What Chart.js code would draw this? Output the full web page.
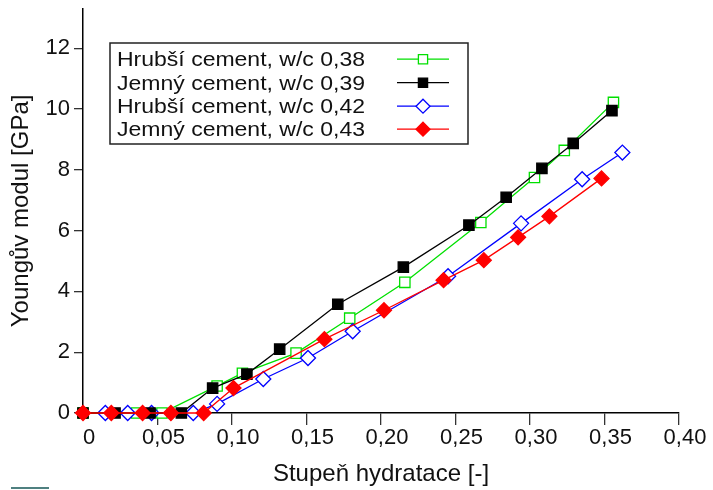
<!DOCTYPE html>
<html><head><meta charset="utf-8">
<script src="https://cdn.jsdelivr.net/npm/chart.js@4/dist/chart.umd.min.js"></script>
<style>
html,body{margin:0;padding:0;background:#fff;}
#wrap{position:relative;width:713px;height:490px;}
#deco{position:absolute;left:11px;top:487px;width:38px;height:2px;background:#4f8080;}
</style></head><body>
<div id="wrap"><canvas id="c" width="713" height="490"></canvas><div id="deco"></div></div>
<script>
// ---- data ----
const seriesNames = [
  'Hrubší cement, w/c 0,38',
  'Jemný cement, w/c 0,39',
  'Hrubší cement, w/c 0,42',
  'Jemný cement, w/c 0,43'
];
const hrubsi038X = [0, 0.036, 0.053, 0.090, 0.107, 0.143, 0.179, 0.216, 0.267, 0.303, 0.323, 0.356];
const hrubsi038Y = [0, 0, 0, 0.89, 1.31, 1.97, 3.12, 4.30, 6.27, 7.75, 8.64, 10.22];
const jemny039X = [0, 0.0215, 0.045, 0.066, 0.087, 0.110, 0.132, 0.171, 0.215, 0.259, 0.284, 0.308, 0.329, 0.355];
const jemny039Y = [0, 0, 0, 0, 0.82, 1.28, 2.10, 3.58, 4.80, 6.18, 7.10, 8.05, 8.87, 9.95];
const hrubsi042X = [0.015, 0.030, 0.046, 0.074, 0.090, 0.121, 0.151, 0.181, 0.245, 0.294, 0.335, 0.362];
const hrubsi042Y = [0, 0, 0, 0, 0.30, 1.12, 1.81, 2.69, 4.50, 6.24, 7.69, 8.57];
const jemny043X = [0, 0.019, 0.040, 0.059, 0.081, 0.101, 0.162, 0.202, 0.242, 0.269, 0.292, 0.313, 0.348];
const jemny043Y = [0, 0, 0, 0, 0, 0.82, 2.43, 3.38, 4.37, 5.03, 5.78, 6.47, 7.72];
const xTicks = [0, 0.05, 0.10, 0.15, 0.20, 0.25, 0.30, 0.35, 0.40];
const yTicks = [0, 2, 4, 6, 8, 10, 12];
const xTitle = 'Stupeň hydratace [-]';
const yTitle = 'Youngův modul [GPa]';

// ---- styles ----
const FONT = "'Liberation Sans', Arial, sans-serif";
const styles = [
  {color:'#00e000', point:'rect', fill:'#ffffff', r:7.3, order:4},
  {color:'#000000', point:'rect', fill:'#000000', r:7.3, order:2},
  {color:'#0000ff', point:'rectRot', fill:'#ffffff', r:7.5, order:3},
  {color:'#ff0000', point:'rectRot', fill:'#ff0000', r:7.5, order:1}
];
const xs = [hrubsi038X, jemny039X, hrubsi042X, jemny043X];
const ys = [hrubsi038Y, jemny039Y, hrubsi042Y, jemny043Y];

const datasets = seriesNames.map((name, i) => ({
  label: name,
  data: xs[i].map((x, k) => ({x: x, y: ys[i][k]})),
  borderColor: styles[i].color,
  backgroundColor: styles[i].fill,
  borderWidth: 1.3,
  pointStyle: styles[i].point,
  pointRadius: styles[i].r,
  pointBorderColor: styles[i].color,
  pointBackgroundColor: styles[i].fill,
  pointBorderWidth: 1.3,
  tension: 0,
  clip: false,
  order: styles[i].order
}));

function drawMarker(ctx, style, x, y, r, fill, stroke) {
  ctx.beginPath();
  if (style === 'rect') {
    const s = r * Math.SQRT1_2;
    ctx.rect(x - s, y - s, 2 * s, 2 * s);
  } else {
    ctx.moveTo(x, y - r); ctx.lineTo(x + r, y); ctx.lineTo(x, y + r); ctx.lineTo(x - r, y); ctx.closePath();
  }
  ctx.fillStyle = fill; ctx.fill();
  ctx.strokeStyle = stroke; ctx.lineWidth = 1.3; ctx.stroke();
}

const boxLegend = {
  id: 'boxLegend',
  afterDatasetsDraw(chart) {
    const ctx = chart.ctx;
    const bx = 110, by = 43, bw = 358, bh = 101;
    ctx.save();
    ctx.fillStyle = '#ffffff';
    ctx.fillRect(bx, by, bw, bh);
    ctx.strokeStyle = '#222';
    ctx.lineWidth = 1.5;
    ctx.strokeRect(bx, by, bw, bh);
    const baselines = [66, 89.5, 113, 136];
    ctx.font = '20px ' + FONT;
    ctx.textBaseline = 'alphabetic';
    ctx.textAlign = 'left';
    seriesNames.forEach((name, i) => {
      const yb = baselines[i];
      ctx.save();
      ctx.translate(bx + 7, yb);
      ctx.scale(1.15, 1);
      ctx.fillStyle = '#111';
      ctx.fillText(name, 0, 0);
      ctx.restore();
      const ly = yb - 6.8;
      ctx.beginPath();
      ctx.moveTo(397, ly); ctx.lineTo(449, ly);
      ctx.strokeStyle = styles[i].color; ctx.lineWidth = 1.3; ctx.stroke();
      drawMarker(ctx, styles[i].point, 423, ly, styles[i].point === 'rect' ? 6.5 : 7, styles[i].fill, styles[i].color);
    });
    ctx.restore();
  }
};

function fmt(v) {
  const r = Math.round(v * 100) / 100;
  if (r === 0) return '0';
  return r.toFixed(2).replace('.', ',');
}

new Chart(document.getElementById('c'), {
  type: 'scatter',
  data: { datasets: datasets },
  options: {
    responsive: false,
    devicePixelRatio: 1,
    animation: false,
    showLine: true,
    layout: { padding: { left: 0, right: 34, top: 2, bottom: 0 } },
    plugins: { legend: { display: false }, tooltip: { enabled: false } },
    scales: {
      x: {
        type: 'linear', min: 0, max: 0.40,
        afterBuildTicks: s => { s.ticks = xTicks.map(v => ({value: v})); },
        afterFit: s => { s.height = 77; s.paddingLeft = 0; s.paddingRight = 0; },
        ticks: { callback: v => fmt(v), font: { size: 22, family: FONT }, color: '#111', labelOffset: 6, padding: 0, maxRotation: 0, autoSkip: false },
        grid: { drawOnChartArea: false, tickLength: 12, color: c => (c.index === 0 ? 'rgba(0,0,0,0)' : '#333'), lineWidth: 1.3 },
        border: { display: true, color: '#000', width: 1.5 },
        title: { display: true, text: xTitle, font: { size: 24, family: FONT }, color: '#111', padding: { top: 0, bottom: 1 } }
      },
      y: {
        type: 'linear', min: 0, max: 13.3,
        afterBuildTicks: s => { s.ticks = yTicks.map(v => ({value: v})); },
        afterFit: s => { s.width = 83; s.paddingTop = 0; s.paddingBottom = 0; },
        ticks: { font: { size: 22, family: FONT }, color: '#111', padding: 4 },
        grid: { drawOnChartArea: false, tickLength: 9, color: '#333', lineWidth: 1.3 },
        border: { display: true, color: '#000', width: 1.5 },
        title: { display: true, text: yTitle, font: { size: 24, family: FONT }, color: '#111', padding: { top: 7, bottom: 0 } }
      }
    }
  },
  plugins: [boxLegend]
});
</script>
</body></html>
